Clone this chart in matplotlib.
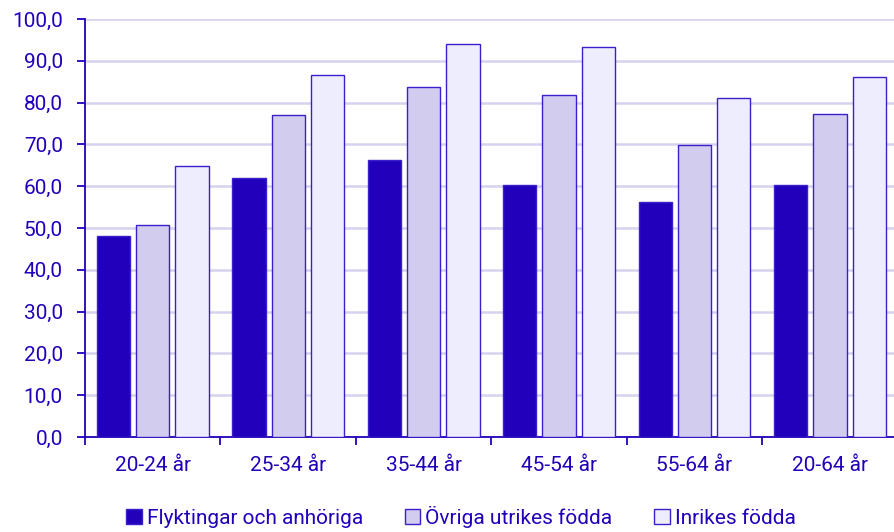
import numpy as np
import matplotlib.pyplot as plt
from matplotlib.patches import Patch

# ============================================================
# Data
# ============================================================

categories = ["20-24 år", "25-34 år", "35-44 år", "45-54 år", "55-64 år", "20-64 år"]
series_names = ["Flyktingar och anhöriga", "Övriga utrikes födda", "Inrikes födda"]

flyktingar = [48.1, 61.9, 66.2, 60.3, 56.2, 60.2]
ovriga = [50.7, 77.0, 83.7, 81.9, 69.9, 77.3]
inrikes = [64.8, 86.5, 94.0, 93.3, 81.2, 86.2]

# ============================================================
# Style
# ============================================================

plt.rcParams['font.family'] = ['Roboto', 'DejaVu Sans']
text_col = "#2200BB"
edge_col = "#3A1FCC"
colors = ["#2200BB", "#D2CDEF", "#EEEDFD"]
grid_col = "#D4D2EE"
fs = 15

fig = plt.figure(figsize=(8.95, 5.32), dpi=100)
ax = fig.add_axes([0.095, 0.1786, 0.908, 0.7857])

x = np.arange(len(categories))
width = 0.245
step = 0.29

for i, vals in enumerate([flyktingar, ovriga, inrikes]):
    ax.bar(x + (i - 1) * step, vals, width, color=colors[i],
           edgecolor=edge_col, linewidth=1.0, zorder=3)

ax.set_xlim(-0.5, len(categories) - 0.5)
ax.set_ylim(0, 100)
ax.set_yticks(np.arange(0, 101, 10))
ax.set_yticklabels([f"{v:.1f}".replace(".", ",") for v in np.arange(0, 101, 10)])

# boundary ticks, labels at centres
ax.set_xticks(np.arange(len(categories)) - 0.5)
ax.set_xticklabels([])
ax.set_xticks(x, minor=True)
ax.set_xticklabels(categories, minor=True)
ax.tick_params(axis='x', which='minor', length=0, pad=14, labelsize=fs, labelcolor=text_col)
ax.tick_params(axis='x', which='major', length=6, width=1.3, color=text_col)
ax.tick_params(axis='y', length=6, width=1.3, color=text_col, labelsize=fs,
               labelcolor=text_col, pad=10)

ax.grid(axis='y', color=grid_col, linewidth=1.8, zorder=0)
for s in ["top", "right"]:
    ax.spines[s].set_visible(False)
for s in ["left", "bottom"]:
    ax.spines[s].set_color(text_col)
    ax.spines[s].set_linewidth(1.3)

handles = [Patch(facecolor=colors[i], edgecolor=edge_col, linewidth=1.0) for i in range(3)]
leg = fig.legend(handles, series_names, loc="center", bbox_to_anchor=(0.515, 0.028),
                 ncol=3, frameon=False, fontsize=fs, handlelength=0.75,
                 handleheight=0.75, handletextpad=0.25, columnspacing=2.0)
for t in leg.get_texts():
    t.set_color(text_col)

plt.savefig("out.png", dpi=100)
